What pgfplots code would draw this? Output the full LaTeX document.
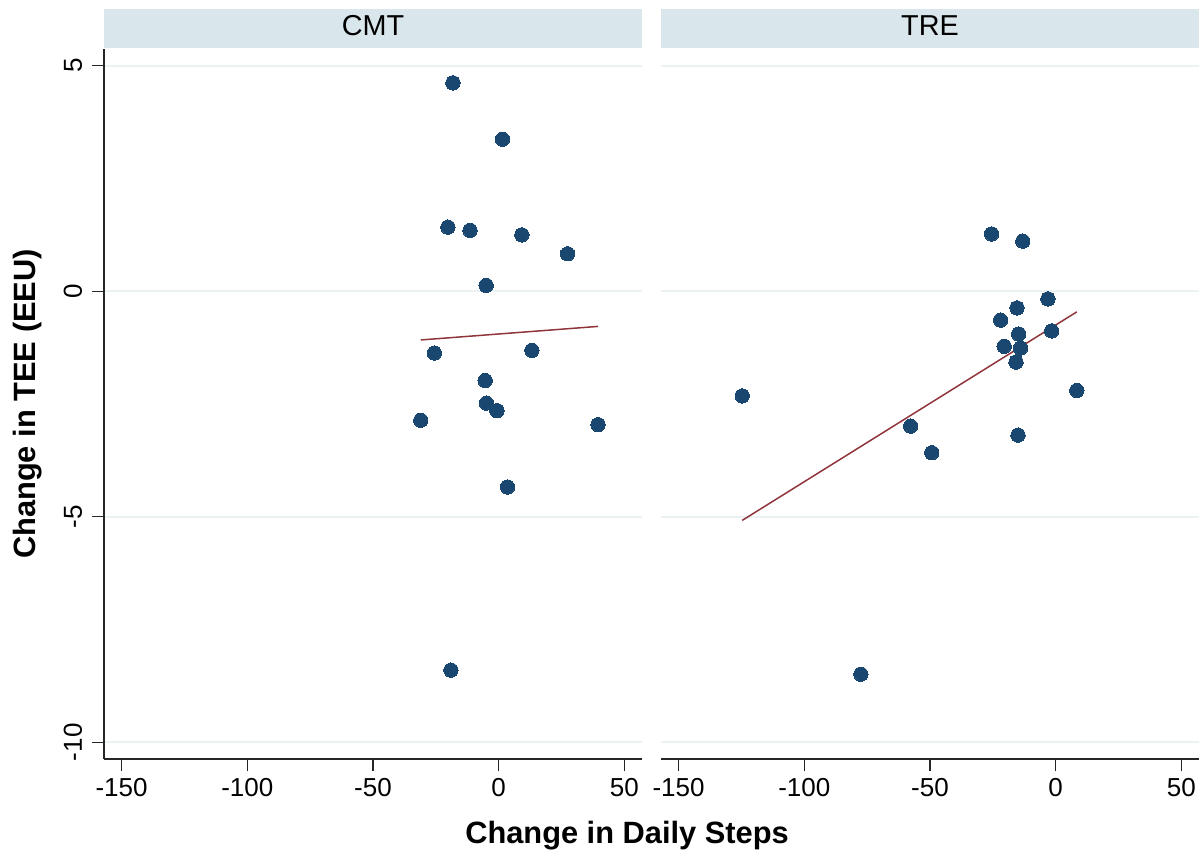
\documentclass[border=0pt]{standalone}
\usepackage{fontspec}
\setmainfont{Liberation Sans}
\usepackage{pgfplots}
\pgfplotsset{compat=1.18}
\definecolor{statanavy}{HTML}{1A476F}
\definecolor{statamaroon}{HTML}{90353B}
\definecolor{gridblue}{HTML}{EAF2F3}
\definecolor{stripblue}{HTML}{D9E6EB}

\pgfplotsset{
  panel/.style={
    scale only axis, width=269pt, height=355pt,
    xmin=-157, xmax=57, ymin=-10.37, ymax=5.37,
    axis x line=bottom, axis y line=left,
    axis line style={-, line width=0.7pt, black!85},
    xtick={-150,-100,-50,0,50}, xticklabels={-150,-100,-50,0,50},
    ytick={-10,-5,0,5},
    tick align=outside, major tick length=6.2pt,
    tick style={line width=0.7pt, black!85},
    ymajorgrids, major grid style={gridblue, line width=1pt},
    ticklabel style={font=\fontsize{13}{15}\selectfont},
    xticklabel style={anchor=north, inner sep=0pt},
    xticklabel shift=3.3pt,
    clip=false,
    anchor=south west,
  },
  dots/.style={only marks, mark=*, mark size=3.6pt,
    mark options={fill=statanavy, draw=statanavy, line width=0pt}},
  fit/.style={no marks, statamaroon, line width=0.75pt},
}

\begin{document}
\begin{tikzpicture}
\path[use as bounding box] (0,0) rectangle (601pt,-427.5pt);

% CMT panel
\begin{axis}[panel, name=cmt, at={(52pt,-379.5pt)},
  yticklabels={-10,-5,0,5},
  yticklabel style={rotate=90, anchor=base, inner sep=0pt},
  yticklabel shift=4.8pt]
\fill[stripblue] ([yshift=0.35pt]rel axis cs:0,1) rectangle ([yshift=19.85pt]rel axis cs:1,1);
\node[anchor=base, inner sep=0pt, font=\fontsize{14.4}{16}\selectfont]
  at ([yshift=6.5pt]rel axis cs:0.5,1) {CMT};
\addplot[dots] coordinates {
  (-18.2,4.62) (1.5,3.37) (-20.2,1.42) (-11.4,1.35) (9.2,1.25) (27.4,0.83)
  (-5.0,0.13) (-25.6,-1.37) (13.2,-1.31) (-5.4,-1.98) (-4.9,-2.48)
  (-0.7,-2.65) (-31.0,-2.86) (39.5,-2.96) (3.5,-4.34) (-19.0,-8.40)
};
\addplot[fit] coordinates {(-31.0,-1.08) (39.5,-0.78)};
\end{axis}

% TRE panel
\begin{axis}[panel, name=tre, at={(330.5pt,-379.5pt)},
  yticklabels={},
  y axis line style={draw=none},
  ytick style={draw=none}]
\fill[stripblue] ([yshift=0.35pt]rel axis cs:0,1) rectangle ([yshift=19.85pt]rel axis cs:1,1);
\node[anchor=base, inner sep=0pt, font=\fontsize{14.4}{16}\selectfont]
  at ([yshift=6.5pt]rel axis cs:0.5,1) {TRE};
\addplot[dots] coordinates {
  (-25.5,1.27) (-13.1,1.11) (-3.1,-0.17) (-15.4,-0.37) (-21.9,-0.64)
  (-14.7,-0.95) (-1.6,-0.88) (-20.5,-1.22) (-14.0,-1.26) (-15.8,-1.57)
  (8.4,-2.20) (-124.7,-2.32) (-57.7,-2.99) (-49.3,-3.58) (-15.0,-3.19)
  (-77.5,-8.49)
};
\addplot[fit] coordinates {(-124.7,-5.08) (8.4,-0.457)};
\end{axis}

\node[rotate=90, anchor=base, inner sep=0pt, font=\bfseries\fontsize{15.4}{18}\selectfont]
  at (17.5pt,-202pt) {Change in TEE (EEU)};
\node[anchor=base, inner sep=0pt, font=\bfseries\fontsize{15.4}{18}\selectfont]
  at (313.5pt,-421.5pt) {Change in Daily Steps};
\end{tikzpicture}
\end{document}
